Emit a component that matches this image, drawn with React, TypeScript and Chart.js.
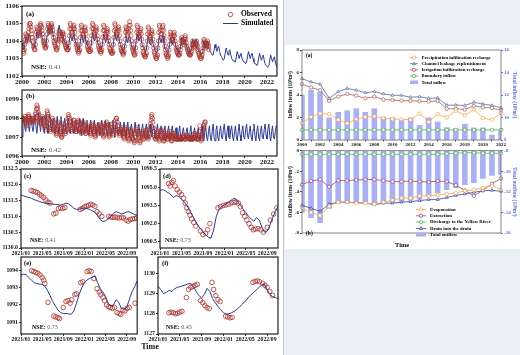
import React, { useEffect, useRef } from 'react';
import { Chart, registerables } from 'chart.js';

Chart.register(...registerables);

const FAM = '"Liberation Serif", "Times New Roman", serif';
Chart.defaults.font.family = FAM;

// ---------------- Left figure: long groundwater-level series (2000-2022) ----------------
const TS_START_YEAR = 2000;
const LONG_X_TICKS = [2000, 2002, 2004, 2006, 2008, 2010, 2012, 2014, 2016, 2018, 2020, 2022];
const A_Y_TICKS = [1102, 1103, 1104, 1105, 1106];
const B_Y_TICKS = [1096, 1097, 1098, 1099];

// simulated: monthly values, one row per year
const SIM_A_ROWS = [
  [1103.9, 1103.7, 1103.5, 1103.8, 1104.2, 1104.1, 1103.9, 1104.3, 1104.4, 1104.1, 1103.9, 1103.8],
  [1103.7, 1103.6, 1103.6, 1104.0, 1104.5, 1104.4, 1104.2, 1104.6, 1104.7, 1104.4, 1104.1, 1103.9],
  [1103.8, 1103.7, 1103.8, 1104.3, 1104.8, 1104.6, 1104.4, 1104.8, 1104.9, 1104.5, 1104.2, 1104.0],
  [1104.0, 1103.9, 1104.0, 1104.5, 1104.9, 1104.6, 1104.3, 1104.5, 1104.4, 1104.1, 1103.9, 1103.8],
  [1103.7, 1103.6, 1103.6, 1104.0, 1104.4, 1104.2, 1104.0, 1104.3, 1104.4, 1104.1, 1103.9, 1103.7],
  [1103.6, 1103.5, 1103.6, 1104.0, 1104.4, 1104.2, 1103.9, 1104.2, 1104.3, 1104.0, 1103.8, 1103.7],
  [1103.6, 1103.5, 1103.6, 1104.0, 1104.5, 1104.2, 1104.0, 1104.3, 1104.4, 1104.1, 1103.8, 1103.7],
  [1103.6, 1103.5, 1103.6, 1104.0, 1104.4, 1104.2, 1103.9, 1104.2, 1104.4, 1104.0, 1103.8, 1103.7],
  [1103.6, 1103.5, 1103.6, 1104.1, 1104.5, 1104.3, 1104.0, 1104.3, 1104.4, 1104.0, 1103.8, 1103.6],
  [1103.5, 1103.4, 1103.5, 1103.9, 1104.3, 1104.1, 1103.9, 1104.2, 1104.3, 1104.0, 1103.7, 1103.6],
  [1103.5, 1103.4, 1103.5, 1104.0, 1104.4, 1104.2, 1104.0, 1104.2, 1104.3, 1103.9, 1103.7, 1103.6],
  [1103.5, 1103.4, 1103.5, 1103.9, 1104.3, 1104.1, 1103.8, 1104.1, 1104.2, 1103.9, 1103.7, 1103.5],
  [1103.4, 1103.3, 1103.4, 1103.9, 1104.3, 1104.1, 1103.9, 1104.2, 1104.3, 1103.9, 1103.6, 1103.5],
  [1103.4, 1103.3, 1103.4, 1103.8, 1104.2, 1104.0, 1103.8, 1104.1, 1104.2, 1103.9, 1103.6, 1103.5],
  [1103.4, 1103.3, 1103.4, 1103.8, 1104.2, 1104.0, 1103.8, 1104.0, 1104.1, 1103.8, 1103.6, 1103.4],
  [1103.3, 1103.3, 1103.4, 1103.8, 1104.1, 1103.9, 1103.7, 1104.0, 1104.1, 1103.8, 1103.5, 1103.4],
  [1103.3, 1103.2, 1103.3, 1103.7, 1104.0, 1103.8, 1103.6, 1103.9, 1104.0, 1103.7, 1103.5, 1103.4],
  [1103.3, 1103.2, 1103.2, 1103.5, 1103.8, 1103.6, 1103.4, 1103.6, 1103.7, 1103.4, 1103.2, 1103.1],
  [1103.0, 1102.9, 1103.0, 1103.3, 1103.6, 1103.4, 1103.2, 1103.4, 1103.5, 1103.2, 1103.0, 1102.9],
  [1102.9, 1102.8, 1102.8, 1103.1, 1103.4, 1103.2, 1103.0, 1103.2, 1103.3, 1103.0, 1102.9, 1102.8],
  [1102.8, 1102.7, 1102.8, 1103.1, 1103.4, 1103.2, 1103.0, 1103.2, 1103.3, 1103.0, 1102.8, 1102.7],
  [1102.7, 1102.6, 1102.7, 1103.0, 1103.3, 1103.1, 1102.9, 1103.1, 1103.2, 1102.9, 1102.7, 1102.6],
  [1102.6, 1102.5, 1102.6, 1102.9, 1103.2, 1103.0, 1102.8, 1103.0, 1103.1, 1102.8, 1102.6, 1102.5],
];

// observed: half-monthly values, one row per year
const OBS_A_ROWS = [
  [1103.9, 1103.7, 1103.5, 1103.4, 1103.3, 1103.5, 1103.8, 1104.1, 1104.4, 1104.3, 1104.2, 1104.1, 1104.0, 1104.3, 1104.5, 1104.7, 1104.9, 1105.0, 1105.0, 1104.8, 1104.6, 1104.4, 1104.2, 1104.0],
  [1103.9, 1103.7, 1103.6, 1103.5, 1103.5, 1103.8, 1104.2, 1104.5, 1104.8, 1104.7, 1104.6, 1104.4, 1104.3, 1104.5, 1104.7, 1104.9, 1105.0, 1104.9, 1104.8, 1104.6, 1104.4, 1104.2, 1104.0, 1103.9],
  [1103.8, 1103.7, 1103.6, 1103.6, 1103.7, 1104.0, 1104.4, 1104.7, 1105.0, 1104.9, 1104.8, 1104.6, 1104.5, 1104.6, 1104.8, 1104.9, 1105.0, 1104.8, 1104.6, 1104.4, 1104.2, 1104.0, 1103.9, 1103.8],
  [1103.7, 1103.6, 1103.5, 1103.5, 1103.6, 1103.8, 1104.1, 1104.4, 1104.6, 1104.5, 1104.3, 1104.1, 1104.0, 1104.1, 1104.3, 1104.4, 1104.5, 1104.4, 1104.2, 1104.0, 1103.9, 1103.8, 1103.7, 1103.6],
  [1103.6, 1103.5, 1103.5, 1103.5, 1103.6, 1103.9, 1104.3, 1104.7, 1105.0, 1104.9, 1104.7, 1104.5, 1104.4, 1104.5, 1104.7, 1104.8, 1104.9, 1104.7, 1104.5, 1104.2, 1104.0, 1103.8, 1103.7, 1103.6],
  [1103.5, 1103.4, 1103.3, 1103.4, 1103.5, 1103.8, 1104.2, 1104.6, 1104.9, 1104.8, 1104.6, 1104.4, 1104.3, 1104.4, 1104.6, 1104.7, 1104.8, 1104.6, 1104.4, 1104.1, 1103.9, 1103.7, 1103.6, 1103.5],
  [1103.5, 1103.4, 1103.4, 1103.4, 1103.5, 1103.9, 1104.3, 1104.7, 1105.0, 1104.9, 1104.7, 1104.5, 1104.3, 1104.4, 1104.6, 1104.7, 1104.8, 1104.6, 1104.3, 1104.1, 1103.9, 1103.7, 1103.6, 1103.5],
  [1103.5, 1103.4, 1103.3, 1103.4, 1103.5, 1103.8, 1104.2, 1104.6, 1104.9, 1104.8, 1104.6, 1104.4, 1104.2, 1104.3, 1104.5, 1104.6, 1104.7, 1104.5, 1104.2, 1104.0, 1103.8, 1103.6, 1103.5, 1103.4],
  [1103.4, 1103.3, 1103.3, 1103.3, 1103.4, 1103.8, 1104.2, 1104.6, 1105.0, 1104.9, 1104.7, 1104.5, 1104.3, 1104.4, 1104.6, 1104.7, 1104.8, 1104.6, 1104.3, 1104.0, 1103.8, 1103.6, 1103.5, 1103.4],
  [1103.4, 1103.3, 1103.2, 1103.3, 1103.4, 1103.7, 1104.1, 1104.5, 1104.8, 1104.7, 1104.6, 1104.4, 1104.3, 1104.5, 1104.7, 1104.9, 1105.1, 1104.9, 1104.6, 1104.3, 1104.0, 1103.8, 1103.6, 1103.5],
  [1103.4, 1103.3, 1103.2, 1103.2, 1103.3, 1103.6, 1104.0, 1104.5, 1104.9, 1104.8, 1104.6, 1104.4, 1104.2, 1104.3, 1104.5, 1104.6, 1104.7, 1104.4, 1104.1, 1103.8, 1103.6, 1103.4, 1103.3, 1103.2],
  [1103.2, 1103.1, 1103.1, 1103.2, 1103.3, 1103.6, 1104.0, 1104.4, 1104.8, 1104.7, 1104.5, 1104.3, 1104.1, 1104.2, 1104.4, 1104.5, 1104.6, 1104.4, 1104.1, 1103.8, 1103.6, 1103.4, 1103.3, 1103.2],
  [1103.1, 1103.0, 1103.0, 1103.1, 1103.2, 1103.6, 1104.0, 1104.5, 1104.9, 1104.8, 1104.6, 1104.4, 1104.2, 1104.4, 1104.6, 1104.8, 1104.9, 1104.6, 1104.3, 1104.0, 1103.7, 1103.5, 1103.3, 1103.2],
  [1103.2, 1103.1, 1103.0, 1103.1, 1103.2, 1103.5, 1103.8, 1104.2, 1104.5, 1104.4, 1104.3, 1104.1, 1104.0, 1104.1, 1104.3, 1104.4, 1104.5, 1104.3, 1104.0, 1103.8, 1103.6, 1103.5, 1103.4, 1103.3],
  [1103.3, 1103.2, 1103.2, 1103.2, 1103.3, 1103.5, 1103.7, 1104.0, 1104.2, 1104.1, 1104.0, 1103.9, 1103.8, 1103.9, 1104.1, 1104.2, 1104.3, 1104.1, 1103.9, 1103.7, 1103.6, 1103.5, 1103.4, 1103.3],
  [1103.3, 1103.2, 1103.2, 1103.2, 1103.3, 1103.4, 1103.6, 1103.8, 1104.0, 1103.9, 1103.8, 1103.7, 1103.6, 1103.7, 1103.8, 1103.9, 1104.0, 1103.8, 1103.7, 1103.5, 1103.4, 1103.3, 1103.2, 1103.1],
  [1103.1, 1103.0, 1103.0, 1103.1, 1103.2, 1103.4, 1103.6, 1103.9, 1104.1, 1104.0, 1103.9, 1103.7, 1103.6, 1103.7, 1103.8, 1103.9, 1104.0, 1103.8, 1103.7, 1103.5],
];

const SIM_B_ROWS = [
  [1097.0, 1097.6, 1098.1, 1097.5, 1097.3, 1097.9, 1098.2, 1097.6, 1097.3, 1097.8, 1098.1, 1097.5],
  [1097.3, 1097.9, 1098.2, 1097.6, 1097.2, 1097.8, 1098.3, 1097.7, 1097.3, 1097.9, 1098.1, 1097.5],
  [1097.2, 1097.8, 1098.2, 1097.5, 1097.2, 1097.9, 1098.2, 1097.6, 1097.3, 1097.8, 1098.0, 1097.4],
  [1097.2, 1097.7, 1098.1, 1097.5, 1097.2, 1097.8, 1098.1, 1097.5, 1097.2, 1097.7, 1098.0, 1097.4],
  [1097.2, 1097.7, 1098.0, 1097.4, 1097.2, 1097.7, 1098.0, 1097.5, 1097.2, 1097.6, 1097.9, 1097.4],
  [1097.2, 1097.6, 1098.0, 1097.4, 1097.1, 1097.7, 1098.0, 1097.4, 1097.2, 1097.6, 1097.9, 1097.3],
  [1097.1, 1097.6, 1097.9, 1097.4, 1097.1, 1097.6, 1097.9, 1097.4, 1097.1, 1097.6, 1097.8, 1097.3],
  [1097.1, 1097.6, 1097.9, 1097.3, 1097.1, 1097.6, 1097.9, 1097.4, 1097.1, 1097.5, 1097.8, 1097.3],
  [1097.1, 1097.5, 1097.9, 1097.3, 1097.0, 1097.6, 1097.8, 1097.3, 1097.1, 1097.5, 1097.8, 1097.3],
  [1097.0, 1097.5, 1097.8, 1097.3, 1097.0, 1097.5, 1097.8, 1097.3, 1097.0, 1097.5, 1097.7, 1097.2],
  [1097.0, 1097.5, 1097.8, 1097.2, 1097.0, 1097.5, 1097.7, 1097.2, 1097.0, 1097.4, 1097.7, 1097.2],
  [1097.0, 1097.4, 1097.7, 1097.2, 1096.9, 1097.4, 1097.7, 1097.2, 1097.0, 1097.4, 1097.6, 1097.1],
  [1096.9, 1097.4, 1097.7, 1097.1, 1096.9, 1097.4, 1097.6, 1097.1, 1096.9, 1097.3, 1097.6, 1097.1],
  [1096.9, 1097.3, 1097.6, 1097.1, 1096.9, 1097.3, 1097.6, 1097.1, 1096.9, 1097.3, 1097.5, 1097.0],
  [1096.9, 1097.3, 1097.6, 1097.0, 1096.8, 1097.3, 1097.5, 1097.0, 1096.9, 1097.3, 1097.5, 1097.0],
  [1096.9, 1097.3, 1097.6, 1097.0, 1096.8, 1097.2, 1097.5, 1097.0, 1096.8, 1097.2, 1097.5, 1097.0],
  [1096.8, 1097.3, 1097.6, 1097.0, 1096.8, 1097.3, 1097.6, 1097.0, 1096.8, 1097.3, 1097.6, 1097.0],
  [1096.8, 1097.3, 1097.7, 1097.0, 1096.8, 1097.4, 1097.6, 1097.0, 1096.8, 1097.3, 1097.6, 1097.0],
  [1096.9, 1097.4, 1097.7, 1097.1, 1096.8, 1097.3, 1097.6, 1097.0, 1096.9, 1097.4, 1097.6, 1097.0],
  [1096.8, 1097.3, 1097.6, 1097.0, 1096.8, 1097.3, 1097.7, 1097.1, 1096.8, 1097.3, 1097.6, 1097.0],
  [1096.9, 1097.4, 1097.7, 1097.1, 1096.9, 1097.3, 1097.6, 1097.0, 1096.8, 1097.4, 1097.7, 1097.1],
  [1096.8, 1097.3, 1097.6, 1097.0, 1096.8, 1097.3, 1097.6, 1097.0, 1096.9, 1097.4, 1097.7, 1097.1],
  [1096.9, 1097.4, 1097.7, 1097.1, 1096.8, 1097.3, 1097.6, 1097.0, 1096.9, 1097.3, 1097.6, 1097.5],
];

const OBS_B_ROWS = [
  [1098.0, 1098.0, 1098.0, 1097.9, 1097.9, 1098.0, 1098.1, 1097.9, 1097.8, 1097.7, 1097.6, 1097.7, 1097.9, 1098.1, 1098.2, 1098.1, 1098.0, 1097.9, 1097.8, 1097.8, 1097.9, 1098.0, 1098.0, 1097.9],
  [1097.9, 1097.8, 1097.8, 1097.9, 1098.0, 1098.2, 1098.3, 1098.5, 1098.7, 1098.6, 1098.5, 1098.3, 1098.2, 1098.0, 1097.9, 1097.8, 1097.7, 1097.8, 1097.9, 1098.0, 1098.1, 1098.0, 1097.9, 1097.7],
  [1097.6, 1097.5, 1097.4, 1097.6, 1097.8, 1098.1, 1098.4, 1098.3, 1098.2, 1098.0, 1097.9, 1097.7, 1097.5, 1097.4, 1097.3, 1097.4, 1097.6, 1097.8, 1098.0, 1097.9, 1097.8, 1097.6, 1097.5, 1097.4],
  [1097.3, 1097.2, 1097.1, 1097.2, 1097.4, 1097.6, 1097.8, 1097.7, 1097.6, 1097.4, 1097.3, 1097.2, 1097.1, 1097.0, 1097.0, 1097.1, 1097.3, 1097.5, 1097.7, 1097.6, 1097.5, 1097.3, 1097.2, 1097.3],
  [1097.4, 1097.6, 1097.8, 1098.0, 1098.2, 1098.1, 1098.0, 1097.8, 1097.6, 1097.4, 1097.3, 1097.4, 1097.5, 1097.7, 1097.8, 1097.9, 1097.9, 1097.7, 1097.6, 1097.5, 1097.4, 1097.3, 1097.3, 1097.4],
  [1097.6, 1097.8, 1097.9, 1097.8, 1097.7, 1097.5, 1097.4, 1097.3, 1097.2, 1097.3, 1097.5, 1097.7, 1097.8, 1097.7, 1097.6, 1097.4, 1097.3, 1097.2, 1097.2, 1097.3, 1097.4, 1097.5, 1097.6, 1097.5],
  [1097.5, 1097.4, 1097.3, 1097.2, 1097.1, 1097.2, 1097.4, 1097.6, 1097.7, 1097.6, 1097.5, 1097.3, 1097.2, 1097.1, 1097.0, 1097.1, 1097.3, 1097.5, 1097.6, 1097.5, 1097.4, 1097.3, 1097.2, 1097.3],
  [1097.4, 1097.6, 1097.7, 1097.6, 1097.5, 1097.3, 1097.2, 1097.1, 1097.0, 1097.1, 1097.3, 1097.5, 1097.6, 1097.7, 1097.8, 1097.6, 1097.5, 1097.3, 1097.2, 1097.1, 1097.0, 1097.1, 1097.2, 1097.3],
  [1097.5, 1097.6, 1097.7, 1097.5, 1097.4, 1097.2, 1097.1, 1097.3, 1097.5, 1097.7, 1097.9, 1098.0, 1098.0, 1097.8, 1097.6, 1097.4, 1097.3, 1097.2, 1097.1, 1097.2, 1097.3, 1097.4, 1097.5, 1097.4],
  [1097.3, 1097.2, 1097.1, 1097.0, 1096.9, 1097.0, 1097.2, 1097.4, 1097.5, 1097.4, 1097.3, 1097.1, 1097.0, 1096.9, 1096.8, 1096.9, 1097.1, 1097.3, 1097.4, 1097.3, 1097.2, 1097.1, 1097.0, 1096.9],
  [1096.9, 1096.8, 1096.7, 1096.8, 1097.0, 1097.2, 1097.3, 1097.4, 1097.5, 1097.3, 1097.2, 1097.0, 1096.9, 1096.8, 1096.7, 1096.8, 1097.0, 1097.2, 1097.3, 1097.2, 1097.1, 1097.0, 1096.9, 1096.9],
  [1097.0, 1097.1, 1097.2, 1097.3, 1097.4, 1097.2, 1097.1, 1097.0, 1096.9, 1097.0, 1097.2, 1097.4, 1097.5, 1097.7, 1097.9, 1098.1, 1098.2, 1098.0, 1097.8, 1097.5, 1097.3, 1097.1, 1097.0, 1096.9],
  [1096.9, 1097.0, 1097.1, 1097.2, 1097.3, 1097.1, 1097.0, 1096.9, 1096.8, 1096.9, 1097.1, 1097.3, 1097.4, 1097.3, 1097.2, 1097.0, 1096.9, 1096.8, 1096.8, 1096.9, 1097.0, 1097.1, 1097.2, 1097.1],
  [1097.0, 1096.9, 1096.9, 1097.0, 1097.1, 1097.2, 1097.3, 1097.1, 1097.0, 1096.9, 1096.8, 1096.8, 1096.9, 1097.0, 1097.1, 1097.2, 1097.2, 1097.1, 1097.0, 1096.9, 1096.9, 1096.9, 1096.9, 1096.9],
  [1096.9, 1096.9, 1096.9, 1096.9, 1097.0, 1097.0, 1096.9, 1096.9, 1096.9, 1096.9, 1097.0, 1097.0, 1097.1, 1097.0, 1096.9, 1096.9, 1096.9, 1096.9, 1097.0, 1097.0, 1097.1, 1097.1, 1097.0, 1097.0],
  [1096.9, 1096.9, 1096.9, 1096.9, 1097.0, 1096.9, 1096.9, 1096.9, 1096.9, 1096.9, 1097.0, 1097.0, 1097.2, 1097.1, 1097.1, 1097.0, 1096.9, 1096.9, 1096.9, 1096.9, 1097.0, 1097.1, 1097.3, 1097.6],
  [1097.0, 1096.9, 1096.8, 1096.9, 1097.1, 1097.2, 1097.4, 1097.5, 1097.6, 1097.7, 1097.8, 1097.8],
];

// ---------------- Left figure: short series 2021/01 - 2022/11 (month index; sim every half month) ----------------
const SMALL_X_TICKS = [0, 4, 8, 12, 16, 20];
const SMALL_X_LABELS = ['2021/01', '2021/05', '2021/09', '2022/01', '2022/05', '2022/09'];
const SIM_STEP_MONTHS = 0.5;

const C_Y_TICKS = [1130.0, 1130.5, 1131.0, 1131.5, 1132.0, 1132.5];
const SIM_C = [1131.68, 1131.65, 1131.62, 1131.6, 1131.57, 1131.53, 1131.5, 1131.47, 1131.44, 1131.42, 1131.41, 1131.4, 1131.39, 1131.38, 1131.37, 1131.36, 1131.38, 1131.42, 1131.4, 1131.33, 1131.26, 1131.22, 1131.23, 1131.25, 1131.26, 1131.25, 1131.22, 1131.18, 1131.13, 1131.02, 1130.9, 1130.84, 1130.86, 1130.92, 1131.0, 1131.1, 1131.15, 1131.12, 1131.08, 1131.1, 1131.14, 1131.15, 1131.1, 1131.06, 1131.04];
const OBS_C_MONTH = [1.9, 2.3, 2.7, 3.1, 3.5, 3.9, 4.3, 4.7, 5.1, 5.5, 6.2, 6.6, 7.1, 7.5, 7.9, 8.3, 11.2, 11.6, 12.0, 12.4, 12.8, 13.2, 13.6, 14.0, 14.4, 14.8, 15.3, 16.6, 17.0, 17.4, 17.8, 18.2, 18.6, 19.0, 19.4, 19.9, 20.3, 20.7, 21.1, 21.5, 21.9];
const OBS_C_VALUE = [1131.82, 1131.8, 1131.78, 1131.75, 1131.7, 1131.65, 1131.6, 1131.52, 1131.45, 1131.42, 1131.08, 1131.1, 1131.25, 1131.27, 1131.25, 1131.28, 1131.22, 1131.25, 1131.3, 1131.33, 1131.35, 1131.38, 1131.36, 1131.32, 1131.15, 1131.08, 1131.0, 1131.0, 1130.98, 1130.97, 1130.98, 1130.96, 1130.95, 1130.97, 1130.95, 1130.88, 1130.85, 1130.9, 1130.92, 1130.93, 1130.95];

const D_Y_TICKS = [1090.5, 1092.0, 1093.5, 1095.0, 1096.5];
const SIM_D = [1094.75, 1094.8, 1094.7, 1094.55, 1094.4, 1094.15, 1094.3, 1094.25, 1094.0, 1093.8, 1093.5, 1093.1, 1092.7, 1092.3, 1091.9, 1091.6, 1091.35, 1091.1, 1090.9, 1090.8, 1091.5, 1092.6, 1093.2, 1093.4, 1093.55, 1093.7, 1093.85, 1094.0, 1094.1, 1093.8, 1093.5, 1093.2, 1092.9, 1092.6, 1092.4, 1092.2, 1092.5, 1092.3, 1091.7, 1091.3, 1091.4, 1091.9, 1092.5, 1093.0, 1093.4];
const OBS_D_MONTH = [1.6, 1.9, 2.2, 2.5, 2.8, 3.2, 3.6, 4.0, 4.4, 4.7, 5.0, 5.3, 5.6, 5.9, 6.3, 6.7, 7.5, 8.0, 8.5, 8.9, 9.3, 10.8, 11.3, 11.8, 12.3, 12.8, 13.3, 13.8, 14.2, 14.6, 15.0, 15.4, 15.8, 16.2, 16.6, 17.0, 17.4, 17.8, 18.3, 18.8, 19.3, 20.0, 20.6, 21.2, 21.8];
const OBS_D_VALUE = [1095.3, 1095.1, 1095.4, 1095.55, 1095.1, 1094.8, 1094.6, 1094.4, 1094.1, 1093.7, 1093.3, 1093.0, 1092.7, 1092.4, 1092.1, 1091.8, 1091.4, 1091.1, 1091.2, 1091.5, 1092.0, 1093.3, 1093.4, 1093.5, 1093.55, 1093.6, 1093.7, 1093.75, 1093.8, 1093.7, 1093.4, 1092.9, 1092.6, 1092.3, 1092.0, 1091.7, 1091.5, 1091.55, 1091.6, 1091.5, 1091.3, 1091.7, 1092.3, 1092.8, 1093.3];

const E_Y_TICKS = [1091, 1092, 1093, 1094];
const SIM_E = [1093.75, 1093.8, 1093.75, 1093.6, 1093.45, 1093.3, 1093.25, 1093.22, 1093.2, 1093.1, 1092.85, 1092.55, 1092.2, 1091.95, 1091.7, 1091.55, 1091.5, 1091.5, 1091.48, 1091.45, 1091.65, 1092.1, 1092.6, 1093.0, 1093.3, 1093.45, 1093.55, 1093.62, 1093.7, 1093.3, 1092.95, 1092.75, 1092.5, 1092.1, 1091.95, 1092.0, 1092.3, 1092.15, 1091.8, 1091.75, 1091.85, 1092.3, 1092.75, 1093.05, 1093.4];
const OBS_E_MONTH = [2.0, 2.4, 2.8, 3.2, 3.6, 4.0, 4.3, 4.5, 5.1, 6.2, 6.6, 7.0, 7.3, 8.0, 8.5, 8.9, 9.3, 9.6, 10.2, 10.5, 11.3, 11.7, 12.5, 12.9, 13.3, 13.8, 14.4, 14.8, 15.1, 15.5, 15.8, 16.2, 16.6, 16.9, 17.3, 17.7, 18.2, 18.6, 18.9, 19.3, 19.7, 20.1, 20.5, 21.6];
const OBS_E_VALUE = [1094.0, 1093.95, 1093.9, 1093.85, 1093.75, 1093.6, 1093.45, 1093.25, 1092.15, 1091.35, 1091.3, 1091.25, 1091.2, 1091.85, 1092.2, 1092.25, 1092.1, 1092.3, 1092.6, 1092.65, 1093.3, 1093.35, 1093.95, 1094.0, 1093.95, 1093.55, 1092.95, 1092.75, 1092.6, 1092.45, 1092.25, 1092.0, 1091.9, 1091.85, 1091.8, 1091.85, 1091.55, 1091.5, 1091.45, 1091.7, 1091.65, 1091.8, 1091.85, 1092.1];

const F_Y_TICKS = [1127, 1128, 1129, 1130];
const SIM_F = [1129.35, 1129.2, 1129.0, 1129.05, 1129.15, 1129.1, 1129.22, 1129.3, 1129.33, 1129.38, 1129.42, 1129.47, 1129.5, 1129.35, 1129.1, 1128.9, 1128.78, 1128.95, 1129.25, 1129.1, 1128.75, 1128.55, 1128.35, 1128.2, 1128.05, 1127.98, 1128.0, 1128.05, 1128.12, 1128.22, 1128.35, 1128.48, 1128.62, 1128.78, 1128.92, 1129.05, 1129.17, 1129.3, 1129.42, 1129.45, 1129.2, 1128.95, 1128.85, 1128.8, 1128.75];
const OBS_F_MONTH = [2.0, 2.4, 2.8, 3.2, 3.6, 4.0, 4.4, 5.2, 5.6, 6.0, 6.4, 6.8, 7.2, 7.8, 8.2, 8.6, 9.0, 9.4, 9.9, 10.2, 10.6, 11.0, 11.4, 12.4, 12.8, 13.2, 13.6, 17.4, 17.8, 18.2, 18.6, 19.2, 19.6, 20.0, 20.5, 21.0];
const OBS_F_VALUE = [1128.05, 1128.08, 1128.05, 1128.0, 1128.02, 1128.08, 1128.12, 1128.8, 1129.2, 1129.3, 1129.35, 1129.4, 1129.45, 1128.65, 1128.55, 1128.4, 1128.3, 1128.25, 1129.55, 1129.2, 1128.9, 1128.7, 1128.6, 1127.88, 1127.85, 1127.8, 1127.82, 1129.55, 1129.6, 1129.62, 1129.58, 1129.5, 1129.4, 1129.3, 1129.1, 1128.9];

// ---------------- Right figure: water balance items (10^8 m^3) ----------------
const YEARS = [2000, 2001, 2002, 2003, 2004, 2005, 2006, 2007, 2008, 2009, 2010, 2011, 2012, 2013, 2014, 2015, 2016, 2017, 2018, 2019, 2020, 2021, 2022];
const PRECIP = [1.5, 2.05, 2.35, 2.3, 1.8, 1.5, 1.85, 2.05, 2.1, 1.95, 1.85, 1.85, 1.8, 2.35, 1.6, 2.3, 2.0, 2.6, 2.2, 2.7, 1.95, 1.8, 2.4];
const CHANNEL = [5.45, 5.16, 4.96, 3.7, 4.3, 4.58, 4.43, 4.2, 4.3, 4.1, 3.97, 3.97, 3.8, 3.85, 3.7, 3.75, 3.1, 3.1, 3.07, 3.35, 3.2, 3.07, 2.87];
const IRRIG = [4.96, 4.67, 4.43, 3.48, 3.86, 4.1, 3.94, 3.7, 3.86, 3.6, 3.55, 3.5, 3.48, 3.45, 3.42, 3.48, 2.78, 2.78, 2.7, 3.04, 2.9, 2.84, 2.64];
const BOUNDARY = [0.9, 0.9, 0.9, 0.9, 0.9, 0.9, 0.9, 0.9, 0.9, 0.9, 0.9, 0.9, 0.9, 0.9, 0.9, 0.9, 0.9, 0.9, 0.9, 0.9, 0.9, 0.9, 0.9];
const TOTAL_IN = [12.0, 12.43, 12.23, 9.97, 10.46, 10.6, 10.78, 10.46, 10.78, 10.03, 9.97, 9.77, 9.97, 9.3, 9.97, 9.6, 9.1, 9.0, 9.4, 9.07, 9.07, 8.43, 8.8];

const EVAP = [-5.6, -6.0, -6.3, -5.4, -5.0, -5.0, -5.1, -5.1, -5.2, -5.0, -4.8, -4.6, -4.6, -4.4, -4.4, -4.3, -4.2, -4.1, -3.9, -3.8, -3.6, -3.4, -3.8];
const EXTRACT = [-3.3, -2.95, -2.8, -3.5, -2.9, -2.9, -2.85, -2.8, -2.8, -2.9, -3.0, -3.0, -2.95, -3.0, -3.05, -2.95, -3.0, -3.35, -3.85, -4.4, -3.85, -3.2, -2.7];
const DISCHARGE = [-0.35, -0.35, -0.35, -0.35, -0.35, -0.35, -0.35, -0.35, -0.35, -0.35, -0.35, -0.35, -0.35, -0.35, -0.35, -0.35, -0.3, -0.25, -0.2, -0.2, -0.25, -0.25, -0.25];
const DRAIN = [-5.3, -5.6, -5.9, -5.2, -5.0, -5.0, -5.05, -5.1, -5.25, -5.1, -5.1, -5.0, -4.95, -4.85, -4.75, -4.75, -4.55, -4.35, -4.2, -4.05, -3.9, -3.85, -3.95];
const TOTAL_OUT = [-14.0, -14.5, -15.0, -13.6, -13.1, -13.1, -13.1, -13.0, -13.1, -13.0, -13.0, -12.9, -12.8, -12.7, -12.4, -12.1, -11.8, -11.6, -11.3, -11.1, -10.7, -10.4, -10.3];

const IN_Y_TICKS = [0, 2, 4, 6, 8];
const IN_Y2_TICKS = [8, 10, 12, 14, 16];
const OUT_Y_TICKS = [-8, -6, -4, -2, 0];
const OUT_Y2_TICKS = [-16, -14, -12, -10, -8];

// ---------------- styles ----------------
const OBS_COLOR = '#a8322c';
const SIM_COLOR = '#2b3a8f';
const ORANGE = '#f2a64a';
const SLATE = '#5b6b9c';
const BROWN = '#a85a4f';
const GREEN = '#4fae55';
const MAROON = '#8e4a6e';
const DARKBLUE = '#3a40a0';
const BAR = '#a9b1f2';
const RIGHT_TICK = '#5a6fd8';

const fnt = (size: number, bold = true) => `${bold ? 'bold ' : ''}${size}px ${FAM}`;

function drawMarker(ctx: any, kind: string, x: number, y: number, r: number, stroke: string, fill: string | null, lw: number) {
  ctx.beginPath();
  if (kind === 'triangle') {
    ctx.moveTo(x, y - r);
    ctx.lineTo(x + r * 0.95, y + r * 0.65);
    ctx.lineTo(x - r * 0.95, y + r * 0.65);
    ctx.closePath();
  } else {
    ctx.arc(x, y, r, 0, Math.PI * 2);
  }
  if (fill) { ctx.fillStyle = fill; ctx.fill(); }
  ctx.lineWidth = lw;
  ctx.strokeStyle = stroke;
  ctx.stroke();
}

function framePlugin(color: string, lw: number) {
  return {
    id: 'frame',
    afterDraw(chart: any) {
      const { left, top, right, bottom } = chart.chartArea;
      const ctx = chart.ctx;
      ctx.save();
      ctx.strokeStyle = color;
      ctx.lineWidth = lw;
      ctx.strokeRect(left, top, right - left, bottom - top);
      ctx.restore();
    },
  };
}

function textsPlugin(items: any[]) {
  return {
    id: 'texts',
    afterDraw(chart: any) {
      const ctx = chart.ctx;
      ctx.save();
      ctx.textBaseline = 'middle';
      ctx.textAlign = 'left';
      for (const it of items) {
        let total = 0;
        for (const p of it.parts) { ctx.font = p.font; total += ctx.measureText(p.t).width; }
        let x = it.align === 'center' ? it.x - total / 2 : it.x;
        for (const p of it.parts) {
          ctx.font = p.font;
          ctx.fillStyle = p.color || '#000';
          ctx.fillText(p.t, x, it.y);
          x += ctx.measureText(p.t).width;
        }
      }
      ctx.restore();
    },
  };
}

function legendPlugin(o: any) {
  return {
    id: 'mlegend',
    afterDraw(chart: any) {
      const ctx = chart.ctx;
      ctx.save();
      ctx.textBaseline = 'middle';
      ctx.textAlign = 'left';
      o.items.forEach((it: any, i: number) => {
        const y = o.y + i * o.rowH;
        const x0 = o.x;
        const x1 = o.x + o.symW;
        const xm = (x0 + x1) / 2;
        if (it.bar) {
          ctx.fillStyle = it.color;
          ctx.fillRect(x0, y - o.barH / 2, o.symW, o.barH);
        }
        if (it.line) {
          ctx.strokeStyle = it.color;
          ctx.lineWidth = it.lw || 0.8;
          ctx.beginPath();
          ctx.moveTo(x0, y);
          ctx.lineTo(x1, y);
          ctx.stroke();
        }
        if (it.marker) drawMarker(ctx, it.marker, xm, y, o.r, it.color, it.fill || null, 0.8);
        ctx.font = o.font;
        ctx.fillStyle = '#000';
        ctx.fillText(it.label, x1 + o.gap, y);
      });
      ctx.restore();
    },
  };
}

const monthly = (vals: number[]) => vals.map((v, i) => ({ x: TS_START_YEAR + i / 12, y: v }));
const halfMonthlyYears = (vals: number[]) => vals.map((v, i) => ({ x: TS_START_YEAR + i / 24, y: v }));
const halfMonthly = (vals: number[]) => vals.map((v, i) => ({ x: i * SIM_STEP_MONTHS, y: v }));
const pairs = (xs: number[], ys: number[]) => xs.map((x, i) => ({ x, y: ys[i] }));
const byYear = (vals: number[]) => YEARS.map((x, i) => ({ x, y: vals[i] }));

function nse(label: string, value: string, x: number, y: number, size: number) {
  return { x, y, parts: [{ t: label + ' ', font: fnt(size) }, { t: value, font: fnt(size, false), color: '#555' }] };
}

function tsConfig(o: any) {
  const tickFont = { family: FAM, size: o.fs, weight: 'bold' };
  const plugins: any[] = [framePlugin('#222', 1.2), textsPlugin(o.texts)];
  if (o.legend) plugins.push(legendPlugin(o.legend));
  return {
    type: 'scatter',
    data: {
      datasets: [
        { data: o.sim, showLine: true, borderColor: SIM_COLOR, borderWidth: o.lw, pointRadius: 0, order: o.obsOnTop ? 1 : 0 },
        { data: o.obs, showLine: false, pointRadius: o.r, pointBorderColor: OBS_COLOR, pointBackgroundColor: 'rgba(255,255,255,0)', pointBorderWidth: o.pbw, order: o.obsOnTop ? 0 : 1 },
      ],
    },
    options: {
      animation: false,
      responsive: false,
      devicePixelRatio: 1,
      events: [],
      layout: { padding: { top: o.padT, right: o.padR, left: 0, bottom: 0 } },
      plugins: { legend: { display: false }, tooltip: { enabled: false } },
      scales: {
        x: {
          type: 'linear', min: o.xMin, max: o.xMax,
          afterBuildTicks: (s: any) => { s.ticks = o.xTicks.map((v: number) => ({ value: v })); },
          afterFit: (s: any) => { s.height = o.xH; },
          grid: { drawOnChartArea: false, tickLength: 2, color: '#333' },
          border: { display: false },
          ticks: { font: tickFont, color: '#111', padding: 0, maxRotation: 0, autoSkip: false, callback: o.xFmt },
        },
        y: {
          type: 'linear', min: o.yMin, max: o.yMax,
          afterBuildTicks: (s: any) => { s.ticks = o.yTicks.map((v: number) => ({ value: v })); },
          afterFit: (s: any) => { s.width = o.yW; },
          grid: { drawOnChartArea: false, tickLength: 2, color: '#333' },
          border: { display: false },
          ticks: { font: tickFont, color: '#111', padding: 1, autoSkip: false, callback: o.yFmt },
        },
      },
    },
    plugins,
  };
}

function flowConfig(o: any) {
  const tickFont = { family: FAM, size: 5, weight: 'bold' };
  const titleFont = { family: FAM, size: 5.5, weight: 'bold' };
  const datasets: any[] = [
    { type: 'bar', data: byYear(o.bars), yAxisID: 'y2', backgroundColor: BAR, barThickness: 5, base: o.barBase, order: 10, clip: 0 },
    ...o.lines.map((l: any) => ({
      type: 'line', data: byYear(l.values), yAxisID: 'y', borderColor: l.color, borderWidth: 0.8,
      pointStyle: l.marker, pointRadius: 1.7, pointBackgroundColor: '#fff', pointBorderColor: l.color,
      pointBorderWidth: 0.7, order: 1, clip: false, tension: 0,
    })),
  ];
  return {
    type: 'line',
    data: { datasets },
    options: {
      animation: false,
      responsive: false,
      devicePixelRatio: 1,
      events: [],
      layout: { padding: { top: o.padT, bottom: o.padB, left: 0, right: 0 } },
      plugins: { legend: { display: false }, tooltip: { enabled: false } },
      scales: {
        x: {
          type: 'linear', min: 2000, max: 2022, offset: false, display: o.showX,
          afterBuildTicks: (s: any) => { s.ticks = LONG_X_TICKS.map((v) => ({ value: v })); },
          afterFit: (s: any) => { s.height = 7; },
          grid: { drawOnChartArea: false, tickLength: 1.5, color: '#444' },
          border: { display: false },
          ticks: { font: tickFont, color: '#111', padding: 0, maxRotation: 0, autoSkip: false, callback: (v: number) => String(v) },
        },
        y: {
          type: 'linear', position: 'left', min: o.yMin, max: o.yMax,
          afterBuildTicks: (s: any) => { s.ticks = o.yTicks.map((v: number) => ({ value: v })); },
          afterFit: (s: any) => { s.width = 17; },
          grid: { drawOnChartArea: false, tickLength: 2, color: '#444' },
          border: { display: false },
          ticks: { font: tickFont, color: '#111', padding: 1, autoSkip: false },
          title: { display: true, text: o.yTitle, font: titleFont, color: '#111', padding: 2 },
        },
        y2: {
          type: 'linear', position: 'right', min: o.y2Min, max: o.y2Max,
          afterBuildTicks: (s: any) => { s.ticks = o.y2Ticks.map((v: number) => ({ value: v })); },
          afterFit: (s: any) => { s.width = 19; },
          grid: { drawOnChartArea: false, tickLength: 2, color: RIGHT_TICK },
          border: { display: false },
          ticks: { font: tickFont, color: RIGHT_TICK, padding: 1, autoSkip: false },
          title: { display: true, text: o.y2Title, font: titleFont, color: RIGHT_TICK, padding: 2 },
        },
      },
    },
    plugins: [framePlugin('#666', 0.8), textsPlugin(o.texts), legendPlugin(o.legend)],
  };
}

function ChartBox(props: { left: number; top: number; width: number; height: number; make: () => any }) {
  const ref = useRef<HTMLCanvasElement>(null);
  useEffect(() => {
    const chart = new Chart(ref.current as HTMLCanvasElement, props.make());
    return () => chart.destroy();
  }, []);
  return (
    <canvas
      ref={ref}
      width={props.width}
      height={props.height}
      style={{ position: 'absolute', left: props.left, top: props.top, width: props.width, height: props.height }}
    />
  );
}

const smallFmt1 = (v: number) => v.toFixed(1);
const smallFmt0 = (v: number) => String(v);
const smallXFmt = (v: number) => SMALL_X_LABELS[SMALL_X_TICKS.indexOf(v)] ?? '';

export default function App() {
  return (
    <div style={{ position: 'fixed', left: 0, top: 0, width: 520, height: 355, background: '#fff', overflow: 'hidden' }}>
      <div style={{ position: 'absolute', left: 284, top: 0, width: 236, height: 355, background: '#e9eef7' }} />
      <div style={{ position: 'absolute', left: 283, top: 0, width: 1, height: 355, background: '#c3c7cf' }} />
      <div style={{ position: 'absolute', left: 285, top: 45, width: 235, height: 204, background: '#fff' }} />

      {/* (a) long series */}
      <ChartBox left={0} top={0} width={283} height={88} make={() => tsConfig({
        sim: monthly(SIM_A_ROWS.flat()), obs: halfMonthlyYears(OBS_A_ROWS.flat()), obsOnTop: true,
        xMin: 2000, xMax: 2022.9, xTicks: LONG_X_TICKS, xFmt: (v: number) => String(v),
        yMin: 1102, yMax: 1106, yTicks: A_Y_TICKS, yFmt: smallFmt0,
        yW: 22, xH: 12, padT: 6, padR: 6, fs: 7, lw: 1, r: 2.1, pbw: 0.7,
        texts: [{ x: 26, y: 14, parts: [{ t: '(a)', font: fnt(7) }] }, nse('NSE:', '0.41', 31, 67, 7)],
        legend: {
          x: 223, y: 14.5, rowH: 9, symW: 15, gap: 3, r: 2.2, barH: 4, font: fnt(7.5),
          items: [
            { label: 'Observed', color: OBS_COLOR, marker: 'circle' },
            { label: 'Simulated', color: SIM_COLOR, line: true, lw: 1 },
          ],
        },
      })} />

      {/* (b) long series */}
      <ChartBox left={0} top={84} width={283} height={84} make={() => tsConfig({
        sim: monthly(SIM_B_ROWS.flat()), obs: halfMonthlyYears(OBS_B_ROWS.flat()), obsOnTop: true,
        xMin: 2000, xMax: 2022.9, xTicks: LONG_X_TICKS, xFmt: (v: number) => String(v),
        yMin: 1096, yMax: 1099.5, yTicks: B_Y_TICKS, yFmt: smallFmt0,
        yW: 22, xH: 12, padT: 6, padR: 6, fs: 7, lw: 1, r: 2.1, pbw: 0.7,
        texts: [{ x: 26, y: 12, parts: [{ t: '(b)', font: fnt(7) }] }, nse('NSE:', '0.42', 31, 66, 7)],
      })} />

      {/* (c) */}
      <ChartBox left={0} top={163} width={142} height={93} make={() => tsConfig({
        sim: halfMonthly(SIM_C), obs: pairs(OBS_C_MONTH, OBS_C_VALUE),
        xMin: 0, xMax: 22, xTicks: SMALL_X_TICKS, xFmt: smallXFmt,
        yMin: 1130, yMax: 1132.5, yTicks: C_Y_TICKS, yFmt: smallFmt1,
        yW: 21, xH: 8, padT: 6, padR: 3, fs: 5.8, lw: 1, r: 2.3, pbw: 0.8,
        texts: [{ x: 24, y: 13, parts: [{ t: '(c)', font: fnt(6.5) }] }, nse('NSE:', '0.41', 30, 77, 6)],
      })} />

      {/* (d) */}
      <ChartBox left={139} top={163} width={144} height={93} make={() => tsConfig({
        sim: halfMonthly(SIM_D), obs: pairs(OBS_D_MONTH, OBS_D_VALUE),
        xMin: 0, xMax: 22, xTicks: SMALL_X_TICKS, xFmt: smallXFmt,
        yMin: 1090, yMax: 1096.5, yTicks: D_Y_TICKS, yFmt: smallFmt1,
        yW: 21, xH: 8, padT: 6, padR: 5, fs: 5.8, lw: 1, r: 2.3, pbw: 0.8,
        texts: [{ x: 24, y: 13, parts: [{ t: '(d)', font: fnt(6.5) }] }, nse('NSE:', '0.73', 26, 77, 6)],
      })} />

      {/* (e) */}
      <ChartBox left={0} top={251} width={142} height={92} make={() => tsConfig({
        sim: halfMonthly(SIM_E), obs: pairs(OBS_E_MONTH, OBS_E_VALUE),
        xMin: 0, xMax: 22, xTicks: SMALL_X_TICKS, xFmt: smallXFmt,
        yMin: 1090.3, yMax: 1094.8, yTicks: E_Y_TICKS, yFmt: smallFmt0,
        yW: 21, xH: 9, padT: 6, padR: 3, fs: 5.8, lw: 1, r: 2.3, pbw: 0.8,
        texts: [{ x: 24, y: 12, parts: [{ t: '(e)', font: fnt(6.5) }] }, nse('NSE:', '0.73', 32, 76, 6)],
      })} />

      {/* (f) */}
      <ChartBox left={137} top={251} width={146} height={92} make={() => tsConfig({
        sim: halfMonthly(SIM_F), obs: pairs(OBS_F_MONTH, OBS_F_VALUE),
        xMin: 0, xMax: 22, xTicks: SMALL_X_TICKS, xFmt: smallXFmt,
        yMin: 1127, yMax: 1130.8, yTicks: F_Y_TICKS, yFmt: smallFmt0,
        yW: 21, xH: 9, padT: 6, padR: 5, fs: 5.8, lw: 1, r: 2.3, pbw: 0.8,
        texts: [{ x: 25, y: 12, parts: [{ t: '(f)', font: fnt(6.5) }] }, nse('NSE:', '0.43', 29, 76, 6)],
      })} />

      <div style={{ position: 'absolute', left: 120, top: 342, width: 60, textAlign: 'center', font: fnt(8), lineHeight: '10px', color: '#111' }}>Time</div>

      {/* right (a) inflow */}
      <ChartBox left={285} top={45} width={235} height={102} make={() => flowConfig({
        bars: TOTAL_IN, barBase: 8, showX: true, padT: 5, padB: 0,
        yMin: 0, yMax: 8, yTicks: IN_Y_TICKS, y2Min: 8, y2Max: 16, y2Ticks: IN_Y2_TICKS,
        yTitle: 'Inflow items (10⁸m³)', y2Title: 'Total inflow (10⁸m³)',
        lines: [
          { values: PRECIP, color: ORANGE, marker: 'circle' },
          { values: CHANNEL, color: SLATE, marker: 'triangle' },
          { values: IRRIG, color: BROWN, marker: 'circle' },
          { values: BOUNDARY, color: GREEN, marker: 'circle' },
        ],
        texts: [{ x: 21, y: 11, parts: [{ t: '(a)', font: fnt(5.5) }] }],
        legend: {
          x: 125, y: 12.5, rowH: 6.2, symW: 8, gap: 3.5, r: 1.6, barH: 3.6, font: fnt(4.8),
          items: [
            { label: 'Precipitation infiltration recharge', color: ORANGE, line: true, marker: 'circle', fill: '#fff' },
            { label: 'Channel leakage replenishment', color: SLATE, line: true, marker: 'triangle', fill: '#fff' },
            { label: 'Irrigation infiltration recharge', color: BROWN, line: true, marker: 'circle', fill: '#fff' },
            { label: 'Boundary inflow', color: GREEN, line: true, marker: 'circle', fill: '#fff' },
            { label: 'Total inflow', color: BAR, bar: true },
          ],
        },
      })} />

      {/* right (b) outflow */}
      <ChartBox left={285} top={146} width={235} height={103} make={() => flowConfig({
        bars: TOTAL_OUT, barBase: -8, showX: false, padT: 1, padB: 9,
        yMin: -8, yMax: 0, yTicks: OUT_Y_TICKS, y2Min: -16, y2Max: -8, y2Ticks: OUT_Y2_TICKS,
        yTitle: 'Outflow items (10⁸m³)', y2Title: 'Total outflow (10⁸m³)',
        lines: [
          { values: EVAP, color: ORANGE, marker: 'circle' },
          { values: EXTRACT, color: MAROON, marker: 'circle' },
          { values: DISCHARGE, color: GREEN, marker: 'circle' },
          { values: DRAIN, color: DARKBLUE, marker: 'triangle' },
        ],
        texts: [
          { x: 21, y: 88, parts: [{ t: '(b)', font: fnt(5.5) }] },
          { x: 117, y: 99, align: 'center', parts: [{ t: 'Time', font: fnt(6.3) }] },
        ],
        legend: {
          x: 131, y: 63.5, rowH: 6.3, symW: 10, gap: 4, r: 1.6, barH: 3.6, font: fnt(4.8),
          items: [
            { label: 'Evaporation', color: ORANGE, line: true, marker: 'circle', fill: '#fff' },
            { label: 'Extraction', color: MAROON, line: true, marker: 'circle', fill: '#fff' },
            { label: 'Discharge to the Yellow River', color: GREEN, line: true, marker: 'circle', fill: '#fff' },
            { label: 'Drain into the drain', color: DARKBLUE, line: true, marker: 'triangle', fill: '#fff' },
            { label: 'Total outflow', color: BAR, bar: true },
          ],
        },
      })} />
    </div>
  );
}
